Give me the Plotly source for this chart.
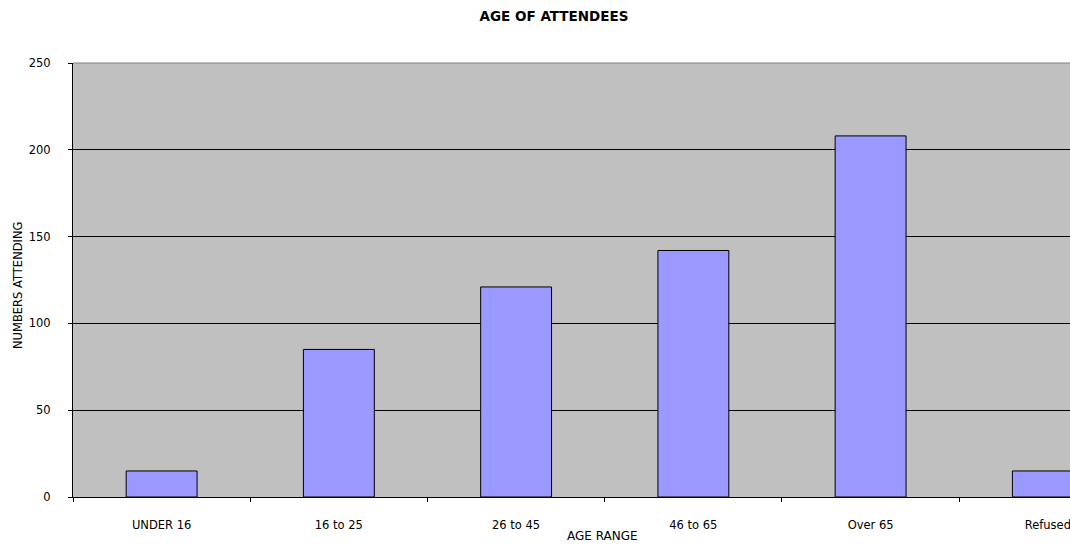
import plotly.graph_objects as go

# Attendance by age band
age_ranges = ["UNDER 16", "16 to 25", "26 to 45", "46 to 65", "Over 65", "Refused"]
attendees = [15, 85, 121, 142, 208, 15]
y_ticks = [0, 50, 100, 150, 200, 250]

FONT = "DejaVu Sans, Verdana, sans-serif"

fig = go.Figure(
    go.Bar(
        x=age_ranges,
        y=attendees,
        width=0.4,
        marker=dict(color="#9999FF", line=dict(color="#000000", width=1)),
        hoverinfo="x+y",
    )
)

fig.update_layout(
    width=1070,
    height=545,
    margin=dict(l=73, r=0, t=63, b=48),
    paper_bgcolor="#FFFFFF",
    plot_bgcolor="#C0C0C0",
    showlegend=False,
    font=dict(family=FONT, size=11, color="#000000"),
    title=dict(
        text="<b>AGE OF ATTENDEES</b>",
        font=dict(family=FONT, size=13.5, color="#000000"),
        xref="container", x=554 / 1070, xanchor="center",
        yref="container", y=1 - 16 / 545, yanchor="middle",
    ),
)

fig.update_xaxes(
    type="category",
    range=[-0.5, 5.125],
    tickson="boundaries",
    ticks="outside",
    ticklen=4,
    tickcolor="#000000",
    showline=True,
    linecolor="#000000",
    linewidth=1,
    showgrid=False,
    ticklabelstandoff=17,
    tickfont=dict(family=FONT, size=11.5),
)

fig.update_yaxes(
    range=[0, 250],
    tickvals=y_ticks,
    ticks="outside",
    ticklen=4,
    tickcolor="#000000",
    showline=True,
    linecolor="#000000",
    linewidth=1,
    showgrid=True,
    gridcolor="#000000",
    gridwidth=1,
    zeroline=False,
    ticklabelstandoff=15,
    tickfont=dict(family=FONT, size=11.5),
)

# grey top edge of the plotting area
fig.add_shape(type="line", xref="paper", yref="paper", x0=0, x1=1, y0=1, y1=1,
              line=dict(color="#808080", width=1))

# axis titles
fig.add_annotation(text="AGE RANGE", xref="paper", yref="paper",
                   x=(602 - 73) / 997, y=-(536 - 497) / 434,
                   xanchor="center", yanchor="middle", showarrow=False,
                   font=dict(family=FONT, size=12))
fig.add_annotation(text="NUMBERS ATTENDING", textangle=-90, xref="paper", yref="paper",
                   x=-(73 - 18) / 997, y=(497 - 285) / 434,
                   xanchor="center", yanchor="middle", showarrow=False,
                   font=dict(family=FONT, size=11.5))

fig.write_html("out.html")
